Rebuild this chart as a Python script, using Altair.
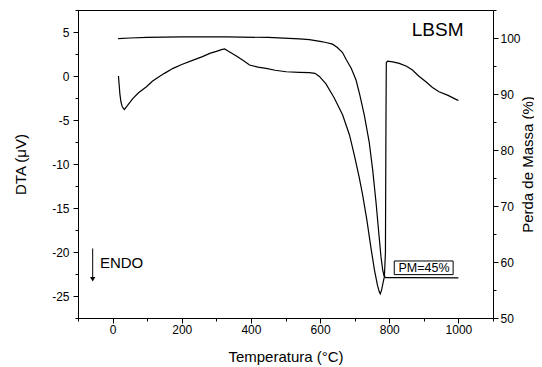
import altair as alt
import pandas as pd

# ---- data ----
T_dta = [17, 19, 21, 24, 28, 34, 40, 50, 59, 75, 98, 115, 132, 150, 175, 200, 233, 260,
         281, 300, 315, 324, 335, 358, 380, 396, 420, 444, 470, 502, 540, 569, 585, 598,
         617, 641, 665, 685, 699, 713, 723, 735, 747, 757, 766, 771, 774, 778, 782, 786,
         789, 790.5, 791.5, 795, 810, 829, 850, 867, 885, 906, 925, 944, 970, 997, 1000]
dta = [0.0, -1.0, -2.0, -2.9, -3.5, -3.8, -3.5, -3.0, -2.55, -1.9, -1.22, -0.6, -0.15, 0.3,
       0.87, 1.3, 1.81, 2.2, 2.57, 2.8, 3.0, 3.07, 2.8, 2.27, 1.7, 1.25, 1.0, 0.87, 0.65,
       0.48, 0.42, 0.38, 0.3, -0.05, -0.9, -2.5, -4.4, -6.7, -9.0, -11.5, -13.5, -16.3,
       -19.5, -22.0, -23.8, -24.5, -24.75, -24.3, -23.5, -22.8, -20.0, -5.0, 1.5, 1.7,
       1.6, 1.44, 1.1, 0.68, 0.0, -0.65, -1.3, -1.79, -2.2, -2.74, -2.75]

T_tg = [16, 50, 100, 200, 330, 450, 540, 569, 600, 617, 636, 650, 665, 675, 690, 704,
        715, 728, 742, 752, 762, 770, 776, 781, 785, 790, 850, 1000]
tg = [99.9, 100.0, 100.1, 100.2, 100.2, 100.1, 99.85, 99.7, 99.4, 99.2, 98.9, 98.3,
      97.4, 96.2, 94.6, 92.5, 89.8, 86.2, 81.4, 76.5, 70.5, 65.0, 61.0, 58.6, 57.5,
      57.2, 57.2, 57.15]

x_ticks = list(range(-100, 1101, 100))
left_ticks = [-27.5 + 2.5 * i for i in range(15)]
right_ticks = list(range(50, 106, 5))

sample_label = "LBSM"
endo_label = "ENDO"
pm_label = "PM=45%"

FONT = "Liberation Sans"

df_dta = pd.DataFrame({"T": T_dta, "DTA": dta})
df_tg = pd.DataFrame({"T": T_tg, "TG": tg})

xscale = alt.Scale(domain=[-100, 1100], nice=False, zero=False)
yl_scale = alt.Scale(domain=[-27.5, 7.5], nice=False, zero=False)
yr_scale = alt.Scale(domain=[50, 105], nice=False, zero=False)

x_axis = alt.Axis(
    values=x_ticks, grid=False, title="Temperatura (°C)",
    labelExpr="datum.value % 200 === 0 ? '' + datum.value : ''",
    tickSize=alt.ExprRef(expr="datum.value % 200 === 0 ? 5 : 3"),
    labelPadding=1, titleX=207.5, titleY=38, titleBaseline="middle",
)
yl_axis = alt.Axis(
    values=left_ticks, grid=False, title="DTA (μV)", orient="left",
    labelExpr="datum.value % 5 === 0 ? '' + datum.value : ''",
    tickSize=alt.ExprRef(expr="datum.value % 5 === 0 ? 5 : 3"),
    labelPadding=4, titleX=-58, titleY=154, titleAngle=270,
    titleAlign="center", titleBaseline="middle",
)
yr_axis = alt.Axis(
    values=right_ticks, grid=False, title="Perda de Massa (%)", orient="right",
    labelExpr="datum.value % 10 === 0 ? '' + datum.value : ''",
    tickSize=alt.ExprRef(expr="datum.value % 10 === 0 ? 5 : 3"),
    labelPadding=2, titleX=34, titleY=154, titleAngle=270,
    titleAlign="center", titleBaseline="middle",
)

X = lambda: alt.X("T:Q", scale=xscale, axis=x_axis)
YL = lambda f="DTA": alt.Y(f + ":Q", scale=yl_scale, axis=yl_axis, title="DTA (μV)")

dta_line = alt.Chart(df_dta).mark_line(color="black", strokeWidth=1.2).encode(
    x=X(), y=YL(), order="T:Q",
)

tg_line = alt.Chart(df_tg).mark_line(color="black", strokeWidth=1.2).encode(
    x=X(),
    y=alt.Y("TG:Q", scale=yr_scale, axis=yr_axis),
    order="T:Q",
)

# annotations placed in data coordinates (temperature, DTA)
ann_text = pd.DataFrame({
    "T": [940, -36.6, 900.6],
    "DTA": [5.2, -21.3, -21.8],
    "txt": [sample_label, endo_label, pm_label],
    "size": [19, 15, 12.5],
    "align": ["center", "left", "center"],
})

def text_layer(i):
    row = ann_text.iloc[[i]]
    return alt.Chart(row).mark_text(
        font=FONT, fontSize=float(row["size"].iloc[0]), color="black",
        align=row["align"].iloc[0], baseline="middle",
    ).encode(x=X(), y=YL(), text="txt:N")

box_df = pd.DataFrame({"T": [814.5], "T2": [984.7], "DTA": [-21.02], "DTA2": [-22.57]})
pm_box = alt.Chart(box_df).mark_rect(fill="white", stroke="black", strokeWidth=1).encode(
    x=X(), x2="T2:Q", y=YL(), y2="DTA2:Q",
)

arrow_df = pd.DataFrame({"T": [-57.5], "DTA": [-19.6], "DTA2": [-22.9]})
arrow_shaft = alt.Chart(arrow_df).mark_rule(color="black", strokeWidth=1).encode(
    x=X(), y=YL(), y2="DTA2:Q",
)
head_df = pd.DataFrame({"T": [-57.5], "DTA": [-23.1]})
arrow_head = alt.Chart(head_df).mark_point(
    shape="triangle-down", filled=True, color="black", size=28, opacity=1
).encode(x=X(), y=YL())

left_layer = alt.layer(dta_line, pm_box, text_layer(0), text_layer(1), text_layer(2),
                       arrow_shaft, arrow_head)

chart = alt.layer(left_layer, tg_line).resolve_scale(y="independent").properties(
    width=415, height=308,
    autosize=alt.AutoSizeParams(type="none"),
    padding={"left": 70, "top": 2, "right": 41, "bottom": 49},
    background="white",
).configure_view(stroke="black", strokeWidth=1).configure_axis(
    domainColor="black", tickColor="black", labelColor="black", titleColor="black",
    labelFont=FONT, titleFont=FONT, labelFontSize=12, titleFontSize=15,
    titleFontWeight="normal", domainWidth=1, tickWidth=1,
)

chart.save("out.html", embed_options={"renderer": "svg", "actions": False})
